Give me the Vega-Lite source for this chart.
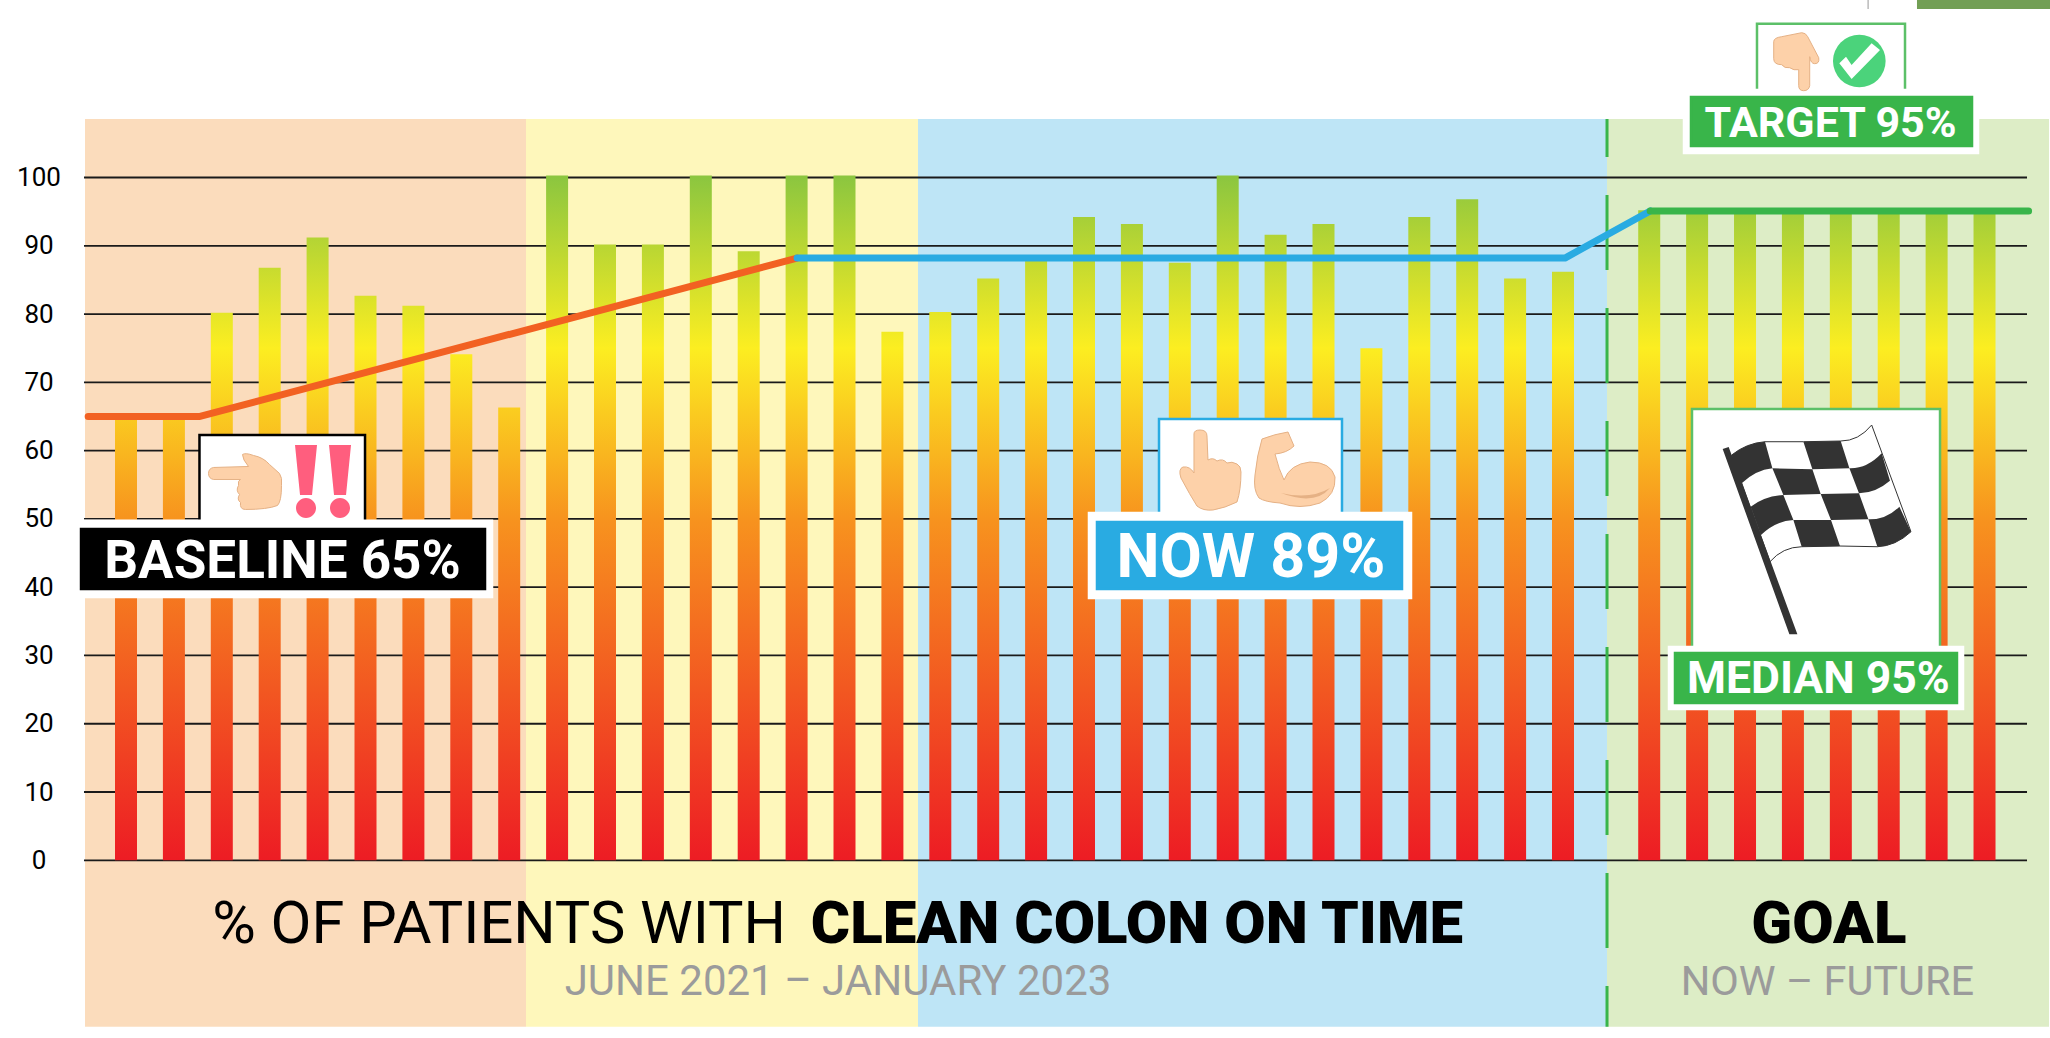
{"$schema":"https://vega.github.io/schema/vega-lite/v6.json","width":2050,"height":1038,"padding":0,"autosize":{"type":"none"},"background":"white","config":{"view":{"stroke":null}},
"resolve":{"scale":{"fill":"independent","stroke":"independent","color":"independent"}},
"datasets":{
"bands":[{"phase":"baseline","x":-0.856,"x2":8.351,"y":108.56,"y2":-24.36},{"phase":"improve","x":8.351,"x2":16.534,"y":108.56,"y2":-24.36},{"phase":"now","x":16.534,"x2":30.919,"y":108.56,"y2":-24.36},{"phase":"goal","x":30.919,"x2":40.146,"y":108.56,"y2":-24.36}],
"grid":[{"y":0,"x":-0.877,"x2":39.687},{"y":10,"x":-0.877,"x2":39.687},{"y":20,"x":-0.877,"x2":39.687},{"y":30,"x":-0.877,"x2":39.687},{"y":40,"x":-0.877,"x2":39.687},{"y":50,"x":-0.877,"x2":39.687},{"y":60,"x":-0.877,"x2":39.687},{"y":70,"x":-0.877,"x2":39.687},{"y":80,"x":-0.877,"x2":39.687},{"y":90,"x":-0.877,"x2":39.687},{"y":100,"x":-0.877,"x2":39.687}],
"bars":[{"x":0,"y":64.5},{"x":1,"y":64.5},{"x":2,"y":80.2},{"x":3,"y":86.8},{"x":4,"y":91.2},{"x":5,"y":82.7},{"x":6,"y":81.2},{"x":7,"y":74.1},{"x":8,"y":66.3},{"x":9,"y":100.3},{"x":10,"y":90.2},{"x":11,"y":90.2},{"x":12,"y":100.3},{"x":13,"y":89.2},{"x":14,"y":100.3},{"x":15,"y":100.3},{"x":16,"y":77.4},{"x":17,"y":80.3},{"x":18,"y":85.2},{"x":19,"y":88},{"x":20,"y":94.2},{"x":21,"y":93.2},{"x":22,"y":87.5},{"x":23,"y":100.3},{"x":24,"y":91.6},{"x":25,"y":93.2},{"x":26,"y":75},{"x":27,"y":94.2},{"x":28,"y":96.8},{"x":29,"y":85.2},{"x":30,"y":86.2},{"x":31.8,"y":95.2},{"x":32.8,"y":95.2},{"x":33.8,"y":95.2},{"x":34.8,"y":95.2},{"x":35.8,"y":95.2},{"x":36.8,"y":95.2},{"x":37.8,"y":95.2},{"x":38.8,"y":95.2}],
"lines":[{"series":"baseline","x":-0.79,"y":65},{"series":"baseline","x":1.545,"y":65},{"series":"baseline","x":14.01,"y":88.2},{"series":"now","x":14.01,"y":88.2},{"series":"now","x":30.04,"y":88.2},{"series":"now","x":31.82,"y":95.1},{"series":"goal","x":31.82,"y":95.1},{"series":"goal","x":39.72,"y":95.1}],
"boxes":[
{"tone":"frame-black","x":1.534,"x2":4.99,"y":62.29,"y2":49.1},{"tone":"plate","x":-0.939,"x2":7.641,"y":49.74,"y2":38.56},{"tone":"black","x":-0.939,"x2":7.495,"y":48.52,"y2":39.73},
{"tone":"frame-blue","x":21.566,"x2":25.386,"y":64.63,"y2":50.57},{"tone":"plate","x":20.104,"x2":26.827,"y":50.86,"y2":38.42},{"tone":"blue","x":20.271,"x2":26.639,"y":49.55,"y2":39.73},
{"tone":"frame-green","x":34.05,"x2":37.14,"y":122.5,"y2":111.79},{"tone":"plate","x":32.526,"x2":38.664,"y":112.8,"y2":103.6},{"tone":"green","x":32.672,"x2":38.539,"y":111.79,"y2":104.61},
{"tone":"frame-green","x":32.693,"x2":37.871,"y":66.09,"y2":30.36},{"tone":"plate","x":32.213,"x2":38.351,"y":31.24,"y2":22.16},{"tone":"green","x":32.338,"x2":38.225,"y":30.36,"y2":23.04}]
},
"encoding":{"x":{"field":"x","type":"quantitative","scale":{"domain":[-2.6305,40.167],"nice":false,"zero":false,"padding":0},"axis":null},"y":{"field":"y","type":"quantitative","scale":{"domain":[-26.025,125.996],"nice":false,"zero":false,"padding":0},"axis":{"values":[0,10,20,30,40,50,60,70,80,90,100],"title":null,"domain":false,"ticks":false,"grid":false,"offset":-38.5,"labelPadding":0,"labelAlign":"center","labelBaseline":"middle","labelFont":"Roboto","labelFontSize":26,"labelColor":"#000000"}}},
"layer":[
{"data":{"name":"bands"},"mark":{"type":"rect"},"encoding":{"x2":{"field":"x2"},"y2":{"field":"y2"},"fill":{"field":"phase","type":"nominal","legend":null,"scale":{"domain":["baseline","improve","now","goal"],"range":["#fbdcbc","#fef7bb","#bee5f6","#ddedc6"]}}}},
{"data":{"values":[{"x":37.39,"x2":40.167,"y":125.996,"y2":124.68}]},"mark":{"type":"rect","fill":"#729f54"},"encoding":{"x2":{"field":"x2"},"y2":{"field":"y2"}}},
{"data":{"values":[{"x":36.37,"y":125.996,"y2":124.68}]},"mark":{"type":"rule","stroke":"#bbbbbb","strokeWidth":1.5},"encoding":{"y2":{"field":"y2"}}},
{"data":{"name":"grid"},"mark":{"type":"rule","stroke":"#1a1a1a","strokeWidth":1.8},"encoding":{"x2":{"field":"x2"}}},
{"data":{"values":[{"x":30.919,"y":108.56,"y2":-24.36}]},"mark":{"type":"rule","stroke":"#39b54a","strokeWidth":3,"strokeDash":[75,38],"strokeDashOffset":37},"encoding":{"y2":{"field":"y2"}}},
{"data":{"name":"bars"},"mark":{"type":"bar","width":22,"fill":{"expr":"{gradient:'linear',x1:0,y1:1,x2:0,y2:1-100/datum.y,stops:[{offset:0,color:'#ed1c24'},{offset:0.5,color:'#f7931e'},{offset:0.75,color:'#fcee21'},{offset:1,color:'#8cc63f'}]}"}},"encoding":{"y":{"field":"y","type":"quantitative","stack":null}}},
{"data":{"name":"lines"},"mark":{"type":"line","strokeWidth":7,"strokeCap":"round","strokeJoin":"round"},"encoding":{"color":{"field":"series","type":"nominal","legend":null,"scale":{"domain":["baseline","now","goal"],"range":["#f26122","#29abe2","#39b54a"]}}}},
{"data":{"name":"boxes"},"mark":{"type":"rect","strokeWidth":2.5},"encoding":{"x2":{"field":"x2"},"y2":{"field":"y2"},"fill":{"field":"tone","type":"nominal","legend":null,"scale":{"domain":["frame-black","frame-blue","frame-green","plate","black","blue","green"],"range":["#ffffff","#ffffff","#ffffff","#ffffff","#000000","#29abe2","#39b54a"]}},"stroke":{"field":"tone","type":"nominal","legend":null,"scale":{"domain":["frame-black","frame-blue","frame-green","plate","black","blue","green"],"range":["#000000","#29abe2","#5cc068","#ffffff","#000000","#29abe2","#39b54a"]}}}},
{"data":{"values":[{"label":"BASELINE 65%","x":3.267,"y":41.3}]},"mark":{"type":"text","font":"Roboto","fontWeight":700,"fontSize":53,"fill":"#ffffff","align":"center","baseline":"alphabetic"},"encoding":{"text":{"field":"label"}}},
{"data":{"values":[{"label":"NOW 89%","x":23.486,"y":41.45}]},"mark":{"type":"text","font":"Roboto","fontWeight":700,"fontSize":61,"fill":"#ffffff","align":"center","baseline":"alphabetic"},"encoding":{"text":{"field":"label"}}},
{"data":{"values":[{"label":"TARGET 95%","x":35.585,"y":105.98}]},"mark":{"type":"text","font":"Roboto","fontWeight":700,"fontSize":43,"fill":"#ffffff","align":"center","baseline":"alphabetic"},"encoding":{"text":{"field":"label"}}},
{"data":{"values":[{"label":"MEDIAN 95%","x":35.33,"y":24.55}]},"mark":{"type":"text","font":"Roboto","fontWeight":700,"fontSize":44.5,"fill":"#ffffff","align":"center","baseline":"alphabetic"},"encoding":{"text":{"field":"label"}}},
{"data":{"values":[{"label":"% OF PATIENTS WITH","x":7.79,"y":-12.07}]},"mark":{"type":"text","font":"Roboto","fontWeight":400,"fontSize":59.5,"fill":"#000000","align":"center","baseline":"alphabetic"},"encoding":{"text":{"field":"label"}}},
{"data":{"values":[{"label":"CLEAN COLON ON TIME","x":21.106,"y":-12.07},{"label":"GOAL","x":35.55,"y":-12.07}]},"mark":{"type":"text","font":"Roboto","fontWeight":900,"fontSize":60,"fill":"#000000","align":"center","baseline":"alphabetic"},"encoding":{"text":{"field":"label"}}},
{"data":{"values":[{"label":"JUNE 2021 – JANUARY 2023","x":14.864,"y":-19.73}]},"mark":{"type":"text","font":"Roboto","fontWeight":400,"fontSize":42,"fill":"#9b9b9b","align":"center","baseline":"alphabetic"},"encoding":{"text":{"field":"label"}}},
{"data":{"values":[{"label":"NOW – FUTURE","x":35.52,"y":-19.73}]},"mark":{"type":"text","font":"Roboto","fontWeight":400,"fontSize":41.5,"fill":"#9b9b9b","align":"center","baseline":"alphabetic"},"encoding":{"text":{"field":"label"}}},
{"data":{"values":[{"x":2.495,"y":55.48}]},"mark":{"type":"point","filled":true,"opacity":1,"size":4,"fill":"#fdd1a9","stroke":"#e5b185","strokeWidth":1,"shape":"M-32,-14 L3,-15 Q-3,-22 -3,-27 Q0,-29 8,-26 Q18,-24 24,-17 L34,-8 Q37,-4 36,4 Q36,20 32,24 Q22,28 0,28 Q-6,28 -5,21 Q-9,18 -6,13 Q-10,9 -7,4 Q-8,-1 -5,-2 L-32,-2 Q-37,-3 -37,-8 Q-37,-13 -32,-14 Z"}},
{"data":{"values":[{"x":4.113,"y":56.14}]},"mark":{"type":"point","filled":true,"opacity":1,"size":4,"fill":"#ff5e7e","strokeWidth":0,"shape":"M-28,-32 L-6,-32 L-11,18 L-23,18 Z M-27,31 A10,10 0 1,1 -7,31 A10,10 0 1,1 -27,31 Z M6,-32 L28,-32 L23,18 L11,18 Z M7,31 A10,10 0 1,1 27,31 A10,10 0 1,1 7,31 Z"}},
{"data":{"values":[{"x":22.63,"y":57.16}]},"mark":{"type":"point","filled":true,"opacity":1,"size":4,"fill":"#fdd1a9","stroke":"#e5b185","strokeWidth":1,"shape":"M-16,-36 Q-16,-40 -10,-40 Q-3,-40 -3,-34 L-2,-10 Q3,-13 7,-9 Q13,-12 17,-7 Q22,-9 27,-6 Q31,-4 31,2 Q31,20 27,32 Q15,38 3,40 Q-7,41 -13,36 Q-20,25 -29,8 Q-32,-1 -27,-3 Q-20,-4 -16,3 Z"}},
{"data":{"values":[{"x":24.405,"y":57.16}]},"mark":{"type":"point","filled":true,"opacity":1,"size":4,"fill":"#fdd1a9","stroke":"#e5b185","strokeWidth":1,"shape":"M-33,-31 Q-20,-36 -7,-38 L-1,-24 Q-8,-17 -20,-16 Q-16,0 -11,10 Q-5,-6 15,-8 Q36,-8 40,7 Q41,25 25,33 Q5,40 -15,33 Q-30,32 -36,28 Q-42,20 -40,5 Q-38,-15 -33,-31 Z"}},
{"data":{"values":[{"x":24.405,"y":57.16}]},"mark":{"type":"point","filled":true,"opacity":1,"size":4,"fill":"#e5b185","strokeWidth":0,"shape":"M-14,23 Q15,30 35,18 Q20,36 -14,23 Z"}},
{"data":{"values":[{"x":34.879,"y":116.96}]},"mark":{"type":"point","filled":true,"opacity":1,"size":4,"fill":"#fdd1a9","stroke":"#e5b185","strokeWidth":1,"shape":"M-23,-20 Q-23,-24 -15,-25 L5,-29 Q9,-29 11,-25 L22,-4 Q23,2 18,2 Q14,2 13,-5 L13,24 Q12,29 7,29 Q2,29 2,24 L2,8 Q-3,9 -7,6 Q-12,7 -15,3 Q-23,3 -23,-3 Z"}},
{"data":{"values":[{"x":36.186,"y":117.06}]},"mark":{"type":"point","shape":"circle","filled":true,"opacity":1,"size":2771,"fill":"#4bd37b","strokeWidth":0}},
{"data":{"values":[{"x":36.186,"y":117.06}]},"mark":{"type":"point","filled":true,"opacity":1,"size":4,"fill":"#ffffff","strokeWidth":0,"shape":"M-20,2.3 L-7.7,18 L20.7,-11 L12.3,-17.7 L-7.7,4 L-13.3,-4.3 Z"}},
{"data":{"values":[{"x":35.296,"y":48.37}]},"mark":{"type":"point","filled":true,"opacity":1,"size":4,"fill":"#ffffff","stroke":"#333333","strokeWidth":1,"shape":"M-85,-75 Q-70,-87 -51.7,-88.3 L-13.3,-88.3 L24,-89 Q42,-89 55,-105 L94.3,1.7 Q79,16 60.7,16.7 L23.3,16 L-15,16.7 Q-34,17 -46.7,31.7 Z"}},
{"data":{"values":[{"x":35.296,"y":48.37}]},"mark":{"type":"point","filled":true,"opacity":1,"size":4,"fill":"#333333","strokeWidth":0,"shape":"M-85,-75 Q-70,-87 -51.7,-88.3 L-44.3,-61.7 Q-61,-60 -75,-46.7 Z M-13.3,-88.3 L24,-89 L32.7,-61.7 L-4.3,-60.7 Z M-44.3,-61.7 L-4.3,-60.7 L4,-36 L-33.3,-35 Z M32.7,-61.7 Q50,-61 65,-76.7 L73.3,-49.3 Q59,-37 42.3,-36.7 Z M-66,-23.3 Q-52,-34 -33.3,-35 L-23.3,-10 Q-41,-9 -55.7,5 Z M4,-36 L42.3,-36.7 L51.7,-10.7 L14.3,-10 Z M-23.3,-10 L14.3,-10 L23.3,16 L-15,16.7 Z M51.7,-10.7 Q69,-10 82.7,-23.3 L94.3,1.7 Q79,16 60.7,16.7 Z M-94,-81 L-88,-83 L-19.3,104.3 L-27.3,104.3 Z"}}
]}
